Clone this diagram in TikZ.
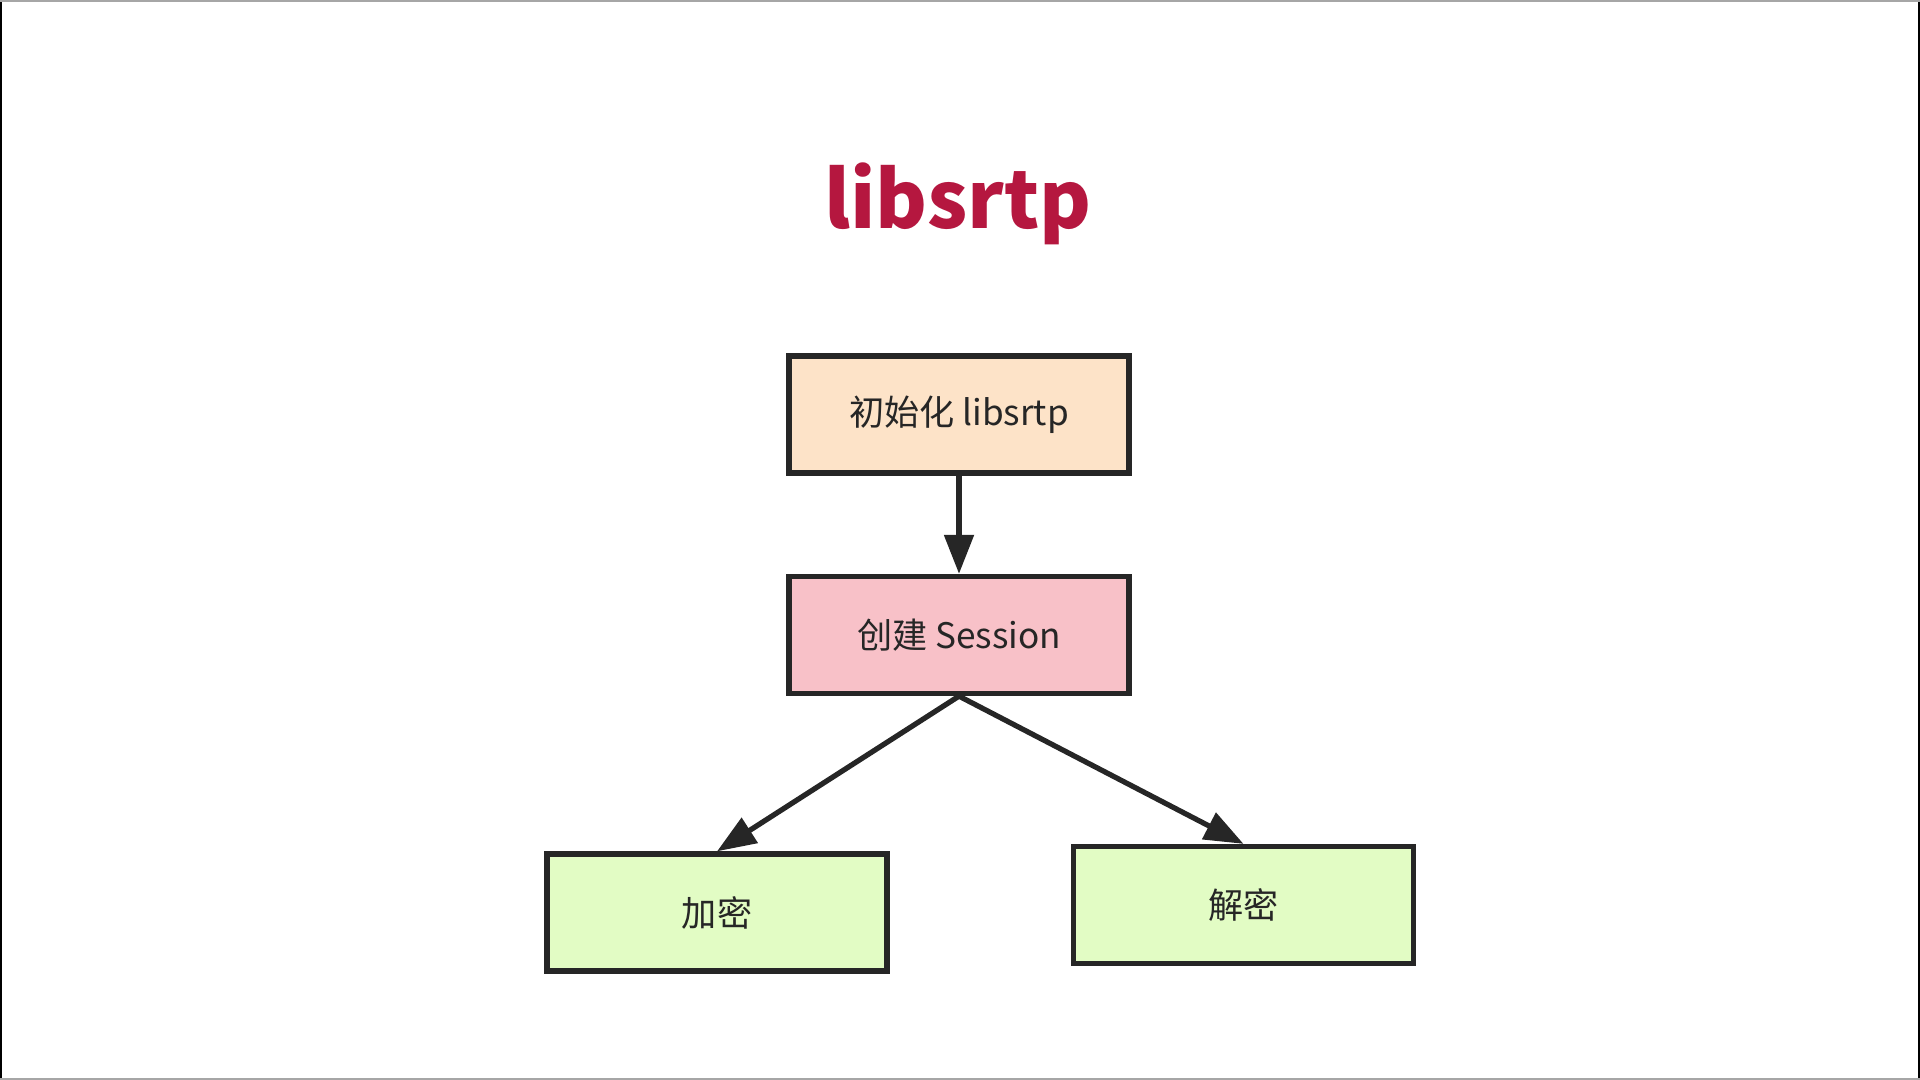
\documentclass[tikz,border=0pt]{standalone}
\usepackage{fontspec}
\setmainfont{Noto Sans CJK SC}
\usepackage{xcolor}
\usetikzlibrary{arrows.meta}

\definecolor{titlered}{HTML}{B5173F}
\definecolor{initfill}{HTML}{FDE3C8}
\definecolor{sessfill}{HTML}{F8C1C8}
\definecolor{cryptfill}{HTML}{E2FCC4}
\definecolor{edgeline}{HTML}{262626}

\begin{document}
\begin{tikzpicture}[
    box/.style={shape=rectangle, draw=edgeline, line width=1.5pt, minimum width=3.40cm, minimum height=1.17cm, font=\fontsize{10}{12}\selectfont, text=black!85},
    flow/.style={draw=edgeline, line width=1.5pt, -{Triangle[length=3.9mm, width=2.9mm]}}
]
            \useasboundingbox (0, 0) rectangle (19.2, 10.8);
            \draw[line width=0.6pt, black] (0.01, 0) -- (0.01, 10.8);
            \draw[line width=0.6pt, black] (19.19, 0) -- (19.19, 10.8);
            \draw[line width=0.5pt, black!35] (0, 10.79) -- (19.2, 10.79);
            \draw[line width=0.5pt, black!35] (0, 0.01) -- (19.2, 0.01);

            \node[anchor=base, text=titlered, font=\fontsize{22.5}{26}\selectfont\bfseries] (T) at (9.58, 8.51) {libsrtp};

            \node[box, fill=initfill] (I) at (9.59, 6.655) {初始化 libsrtp};
            \node[box, fill=sessfill] (S) at (9.59, 4.45) {创建 Session};
            \node[box, fill=cryptfill] (E) at (7.17, 1.675) {加密};
            \node[box, fill=cryptfill] (D) at (12.435, 1.75) {解密};

            \path (I.south) edge[flow] (S.north);
            \path (S.south) edge[flow] (E.north);
            \path (S.south) edge[flow] (D.north);

        \end{tikzpicture}
\end{document}
